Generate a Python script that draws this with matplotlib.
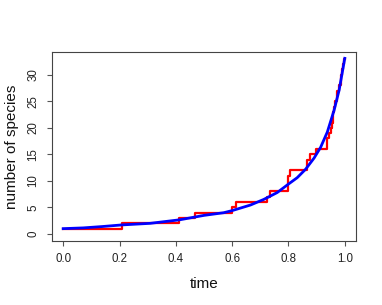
import matplotlib
matplotlib.use("Agg")
import matplotlib.pyplot as plt

# Lineage-through-time step data (time at which count changes, count after)
step_times = [0.0, 0.208, 0.413, 0.467, 0.600, 0.614, 0.724, 0.736, 0.797, 0.798,
              0.799, 0.805, 0.866, 0.867, 0.877, 0.899, 0.937, 0.938, 0.945, 0.952,
              0.953, 0.957, 0.958, 0.963, 0.964, 0.972, 0.973, 0.980, 0.987, 0.988,
              0.989, 0.995, 0.996, 1.0]
step_counts = list(range(1, 34)) + [33]

# Expected curve
curve_t = [0.0, 0.071, 0.14, 0.208, 0.309, 0.413, 0.5, 0.57, 0.60, 0.665, 0.712,
           0.76, 0.80, 0.831, 0.861, 0.891, 0.914, 0.938, 0.962, 0.980, 1.0]
curve_n = [1.0, 1.14, 1.4, 1.7, 2.0, 2.66, 3.5, 4.0, 4.4, 5.45, 6.5,
           7.8, 9.4, 10.6, 12.2, 14.3, 16.3, 19.2, 23.3, 27.1, 33.1]

xticks = [0.0, 0.2, 0.4, 0.6, 0.8, 1.0]
xticklabels = ["0.0", "0.2", "0.4", "0.6", "0.8", "1.0"]
yticks = [0, 5, 10, 15, 20, 25, 30]

plt.rcParams['font.family'] = ['Liberation Sans', 'DejaVu Sans']

fig = plt.figure(figsize=(3.82, 3.05), dpi=100)
ax = fig.add_axes([0.136, 0.210, 0.796, 0.620])

ax.step(step_times, step_counts, where='post', color='#ff0000', lw=1.6)
ax.plot(curve_t, curve_n, color='#0000ff', lw=2.0)

ax.set_xlim(-0.04, 1.04)
ax.set_ylim(-1.32, 34.32)
ax.set_xticks(xticks)
ax.set_xticklabels(xticklabels)
ax.set_yticks(yticks)
ax.set_yticklabels([str(v) for v in yticks], rotation=90, va='center')

for s in ax.spines.values():
    s.set_color('#444444')
    s.set_linewidth(0.8)
ax.tick_params(direction='out', length=3.5, width=0.8, color='#555555',
               labelsize=8.3, labelcolor='#222222', pad=5.5)

ax.set_xlabel("time", fontsize=11, labelpad=8, color='#111111')
ax.set_ylabel("number of species", fontsize=11, labelpad=6, color='#111111')

fig.savefig("out.png", dpi=100)
